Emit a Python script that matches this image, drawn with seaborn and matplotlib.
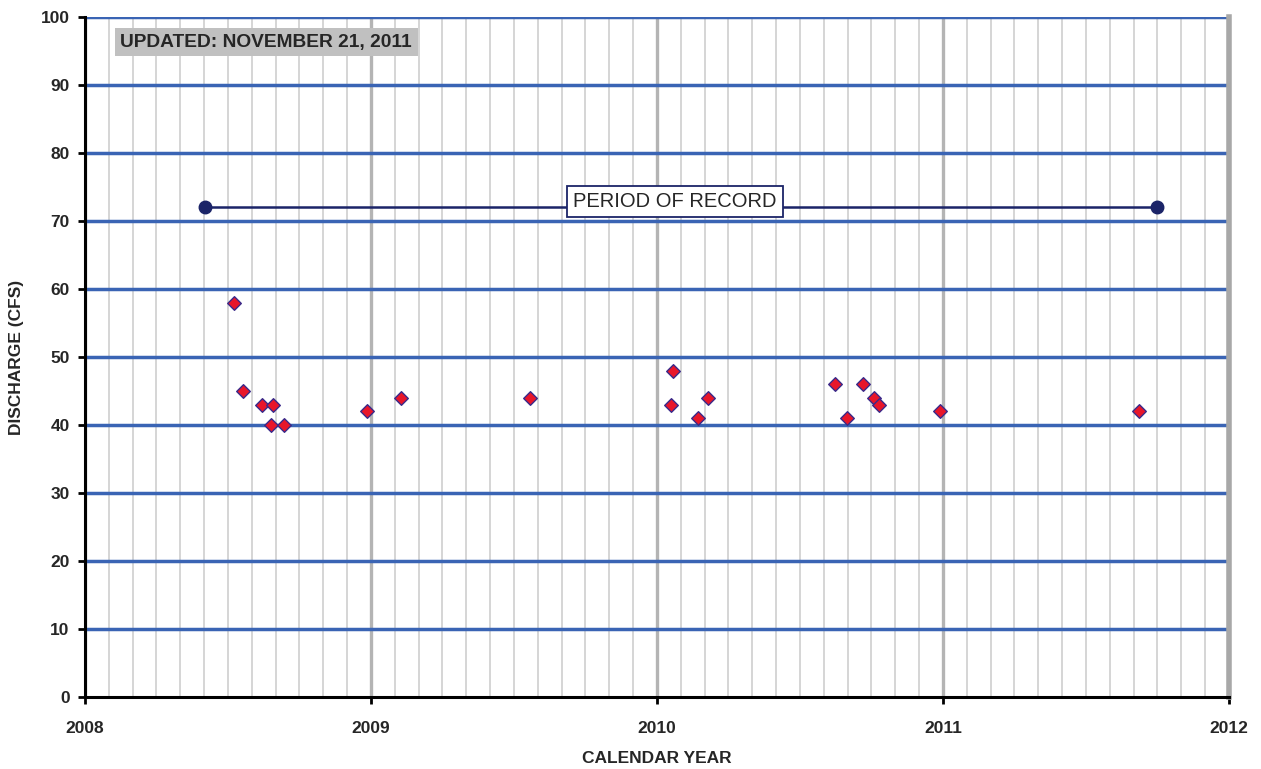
import numpy as np
import pandas as pd
import seaborn as sns
import matplotlib.pyplot as plt

# Measured discharge (decimal calendar year, cfs)
years = [2008.521, 2008.552, 2008.619, 2008.657, 2008.650, 2008.696,
         2008.986, 2009.105, 2009.556,
         2010.049, 2010.056, 2010.143, 2010.178,
         2010.622, 2010.664, 2010.720, 2010.759, 2010.776, 2010.990,
         2011.685]
discharge = [58, 45, 43, 43, 40, 40,
             42, 44, 44,
             43, 48, 41, 44,
             46, 41, 46, 44, 43, 42,
             42]

record_start = 2008.42
record_end = 2011.75
record_level = 72

year_ticks = [2008, 2009, 2010, 2011, 2012]
y_ticks = list(range(0, 101, 10))

df = pd.DataFrame({"year": years, "discharge": discharge})

sns.set_style("white")
plt.rcParams["font.family"] = ["Liberation Sans", "DejaVu Sans"]

fig = plt.figure(figsize=(12.61, 7.69), dpi=100)
ax = fig.add_axes([0.0674, 0.0936, 0.9072, 0.8843])

# grid: monthly minor lines, yearly major lines, blue horizontal lines
for m in np.arange(2008, 2012.001, 1 / 12):
    is_year = abs(m - round(m)) < 1e-6
    ax.axvline(m, color="#b4b4b4" if is_year else "#d2d2d2",
               lw=2.4 if is_year else 1.3, zorder=0)
for y in y_ticks[1:]:
    ax.axhline(y, color="#3a64b4", lw=2.5, zorder=1)

# period of record
ax.plot([record_start, record_end], [record_level, record_level],
        color="#1b2468", lw=1.8, zorder=2)
ax.plot([record_start, record_end], [record_level, record_level], "o",
        color="#1b2468", ms=9, zorder=3)
ax.text((record_start + record_end) / 2 - 0.023, record_level + 0.9,
        "PERIOD OF RECORD", ha="center", va="center", fontsize=14.5,
        zorder=4,
        bbox=dict(boxstyle="square,pad=0.3", fc="white", ec="#1b2468", lw=1.3))

sns.scatterplot(data=df, x="year", y="discharge", marker="D", s=48,
                color="#e8162a", edgecolor="#3a2a8a", linewidth=1.0,
                zorder=5, ax=ax)

ax.text(0.031, 0.963, "UPDATED: NOVEMBER 21, 2011", transform=ax.transAxes,
        ha="left", va="center", fontsize=13.8, fontweight="bold",
        bbox=dict(boxstyle="square,pad=0.3", fc="#c0c0c0", ec="none"))

ax.set_xlim(2008, 2012)
ax.set_ylim(0, 100)
ax.set_xticks(year_ticks)
ax.set_xticklabels([str(t) for t in year_ticks], fontsize=12.5, fontweight="bold")
ax.set_yticks(y_ticks)
ax.set_yticklabels([str(t) for t in y_ticks], fontsize=12.5, fontweight="bold")
ax.tick_params(axis="both", direction="out", length=5, width=2, color="black",
               bottom=True, left=True)
ax.tick_params(axis="x", pad=12)
ax.tick_params(axis="y", pad=6)

ax.set_xlabel("CALENDAR YEAR", fontsize=12.5, fontweight="bold", labelpad=11)
ax.set_ylabel("DISCHARGE (CFS)", fontsize=12.5, fontweight="bold", labelpad=12)

for side in ["left", "bottom"]:
    ax.spines[side].set_color("black")
    ax.spines[side].set_linewidth(2.2)
ax.spines["top"].set_visible(False)
ax.spines["right"].set_color("#a8a8a8")
ax.spines["right"].set_linewidth(4)

fig.savefig("out.png", dpi=100)
